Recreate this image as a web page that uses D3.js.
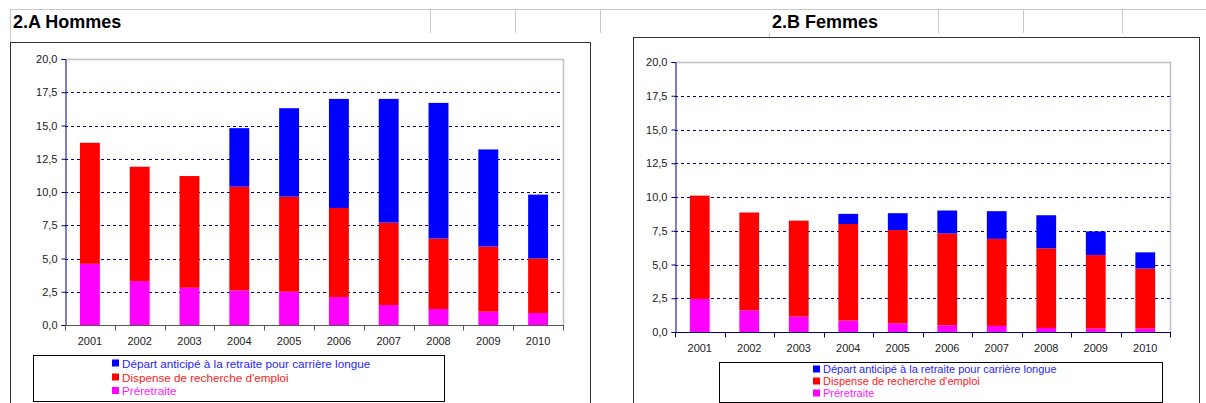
<!DOCTYPE html>
<html>
<head>
<meta charset="utf-8">
<script src="https://cdn.jsdelivr.net/npm/d3@7"></script>
<style>
  html, body { margin: 0; padding: 0; background: #fff; }
  svg { display: block; font-family: Arial, "Liberation Sans", sans-serif; }
</style>
</head>
<body>
<svg id="chart" width="1206" height="403"></svg>
<script>
// ---- Data ----
const years = ["2001","2002","2003","2004","2005","2006","2007","2008","2009","2010"];
const yTicks = [0, 2.5, 5, 7.5, 10, 12.5, 15, 17.5, 20];
const seriesNames = ["Départ anticipé à la retraite pour carrière longue", "Dispense de recherche d'emploi", "Préretraite"];
const seriesColors = ["#0000ff", "#ff0000", "#ff00ff"];
const legendTextColors = ["#2626ff", "#ff1a1a", "#ff1aff"];

const hommesPreretraite = [4.6, 3.3, 2.8, 2.6, 2.5, 2.1, 1.5, 1.2, 1.0, 0.9];
const hommesDispense    = [9.1, 8.6, 8.4, 7.8, 7.15, 6.7, 6.2, 5.3, 4.9, 4.1];
const hommesDepart      = [0, 0, 0, 4.4, 6.65, 8.2, 9.3, 10.2, 7.3, 4.8];

const femmesPreretraite = [2.45, 1.6, 1.15, 0.85, 0.65, 0.5, 0.45, 0.3, 0.25, 0.25];
const femmesDispense    = [7.65, 7.25, 7.1, 7.15, 6.9, 6.8, 6.45, 5.9, 5.45, 4.45];
const femmesDepart      = [0, 0, 0, 0.75, 1.25, 1.7, 2.05, 2.45, 1.75, 1.2];

const svg = d3.select("#chart");
const fmt = v => d3.format(".1f")(v).replace(".", ",");

// ---- Spreadsheet background lines ----
const sheet = svg.append("g").attr("stroke", "#c8c8c8").attr("stroke-width", 1);
sheet.append("line").attr("x1", 10).attr("x2", 1206).attr("y1", 9.5).attr("y2", 9.5);
sheet.append("line").attr("x1", 10.5).attr("x2", 10.5).attr("y1", 9).attr("y2", 403);
[430, 515, 600, 938, 1023, 1122].forEach(x => {
  sheet.append("line").attr("x1", x + 0.5).attr("x2", x + 0.5).attr("y1", 9).attr("y2", 33);
});
sheet.append("line").attr("x1", 769.5).attr("x2", 769.5).attr("y1", 33).attr("y2", 37);

function drawPanel(cfg) {
  const data = years.map((yr, i) => ({
    year: yr,
    preretraite: cfg.pre[i],
    dispense: cfg.disp[i],
    depart: cfg.dep[i]
  }));

  // box
  svg.append("rect")
    .attr("x", cfg.box[0] + 0.5).attr("y", cfg.box[1] + 0.5)
    .attr("width", cfg.box[2]).attr("height", cfg.box[3])
    .attr("fill", "none").attr("stroke", "#333").attr("stroke-width", 1);

  // title
  svg.append("text")
    .attr("x", cfg.titleX).attr("y", 28)
    .attr("font-size", 18).attr("font-weight", "bold").attr("fill", "#000")
    .text(cfg.title);

  const x = d3.scaleBand().domain(years)
    .range([cfg.plot.x0, cfg.plot.x1]).paddingInner(0.6).paddingOuter(0.3);
  const y = d3.scaleLinear().domain([0, 20]).range([cfg.plot.y1, cfg.plot.y0]);

  const g = svg.append("g");

  // plot area border (top and right)
  g.append("path")
    .attr("d", `M${cfg.plot.x0},${cfg.plot.y0 + 0.5}H${cfg.plot.x1 + 0.5}V${cfg.plot.y1}`)
    .attr("fill", "none").attr("stroke", "#c0c0c0").attr("stroke-width", 1.5);

  // gridlines
  g.append("g").selectAll("line")
    .data(yTicks.filter(t => t > 0 && t < 20))
    .join("line")
    .attr("x1", cfg.plot.x0).attr("x2", cfg.plot.x1)
    .attr("y1", d => Math.round(y(d)) + 0.5).attr("y2", d => Math.round(y(d)) + 0.5)
    .attr("stroke", "#000080").attr("stroke-width", 1)
    .attr("stroke-dasharray", "3,3");

  // stacked bars
  const stack = d3.stack().keys(["preretraite", "dispense", "depart"]);
  const layers = stack(data);
  const colorByKey = {depart: seriesColors[0], dispense: seriesColors[1], preretraite: seriesColors[2]};
  g.append("g").selectAll("g")
    .data(layers)
    .join("g")
    .attr("fill", d => colorByKey[d.key])
    .selectAll("rect")
    .data(d => d.filter(s => s[1] - s[0] > 0))
    .join("rect")
    .attr("x", d => x(d.data.year))
    .attr("width", x.bandwidth())
    .attr("y", d => y(d[1]))
    .attr("height", d => y(d[0]) - y(d[1]));

  // y axis
  const yAxis = d3.axisLeft(y).tickValues(yTicks).tickFormat(fmt).tickSize(4).tickPadding(4);
  const ya = g.append("g").attr("transform", `translate(${cfg.plot.x0 + 0.5},0)`).call(yAxis);
  ya.select(".domain").attr("stroke", "#000080");
  ya.selectAll(".tick line").attr("stroke", "#000080");
  ya.selectAll("text").attr("font-size", 11).attr("fill", "#222")
    .attr("font-family", "Arial, 'Liberation Sans', sans-serif");

  // x axis
  const xAxis = d3.axisBottom(x).tickSize(0).tickPadding(cfg.xLabelPad);
  const xa = g.append("g").attr("transform", `translate(0,${cfg.plot.y1 + 0.5})`).call(xAxis);
  xa.select(".domain").attr("stroke", cfg.xAxisColor).attr("d", `M${cfg.plot.x0},0H${cfg.plot.x1 + 1}`);
  xa.selectAll("text").attr("font-size", 11).attr("fill", "#222")
    .attr("font-family", "Arial, 'Liberation Sans', sans-serif");
  // tick marks at category boundaries
  xa.append("g").selectAll("line")
    .data(d3.range(years.length + 1))
    .join("line")
    .attr("x1", i => Math.round(cfg.plot.x0 + i * (cfg.plot.x1 - cfg.plot.x0) / years.length) + 0.5)
    .attr("x2", i => Math.round(cfg.plot.x0 + i * (cfg.plot.x1 - cfg.plot.x0) / years.length) + 0.5)
    .attr("y1", 0).attr("y2", 5)
    .attr("stroke", cfg.xAxisColor);

  // legend
  const lg = svg.append("g");
  lg.append("rect")
    .attr("x", cfg.legend.x + 0.5).attr("y", cfg.legend.y + 0.5)
    .attr("width", cfg.legend.w).attr("height", cfg.legend.h)
    .attr("fill", "#fff").attr("stroke", "#000").attr("stroke-width", 1);
  seriesNames.forEach((name, i) => {
    const cy = cfg.legend.rowY[i];
    lg.append("rect")
      .attr("x", cfg.legend.sqX).attr("y", cy - 4)
      .attr("width", 7).attr("height", 7)
      .attr("fill", seriesColors[i]);
    lg.append("text")
      .attr("x", cfg.legend.sqX + 10).attr("y", cy)
      .attr("dy", "0.35em")
      .attr("font-size", cfg.legend.fontSize).attr("fill", legendTextColors[i])
      .text(name);
  });
}

drawPanel({
  title: "2.A Hommes", titleX: 13,
  box: [10, 42, 580, 400],
  plot: {x0: 65, x1: 563, y0: 59, y1: 325},
  pre: hommesPreretraite, disp: hommesDispense, dep: hommesDepart,
  xAxisColor: "#555",
  xLabelPad: 12,
  legend: {x: 33, y: 355, w: 411, h: 46, sqX: 112, fontSize: 11.7, rowY: [363.5, 377.5, 391]}
});

drawPanel({
  title: "2.B Femmes", titleX: 772,
  box: [633, 37, 566, 400],
  plot: {x0: 675, x1: 1170, y0: 62, y1: 332},
  pre: femmesPreretraite, disp: femmesDispense, dep: femmesDepart,
  xAxisColor: "#000080",
  xLabelPad: 12,
  legend: {x: 719, y: 362, w: 443, h: 40, sqX: 813, fontSize: 11, rowY: [369.5, 381.5, 393.5]}
});
</script>
</body>
</html>
